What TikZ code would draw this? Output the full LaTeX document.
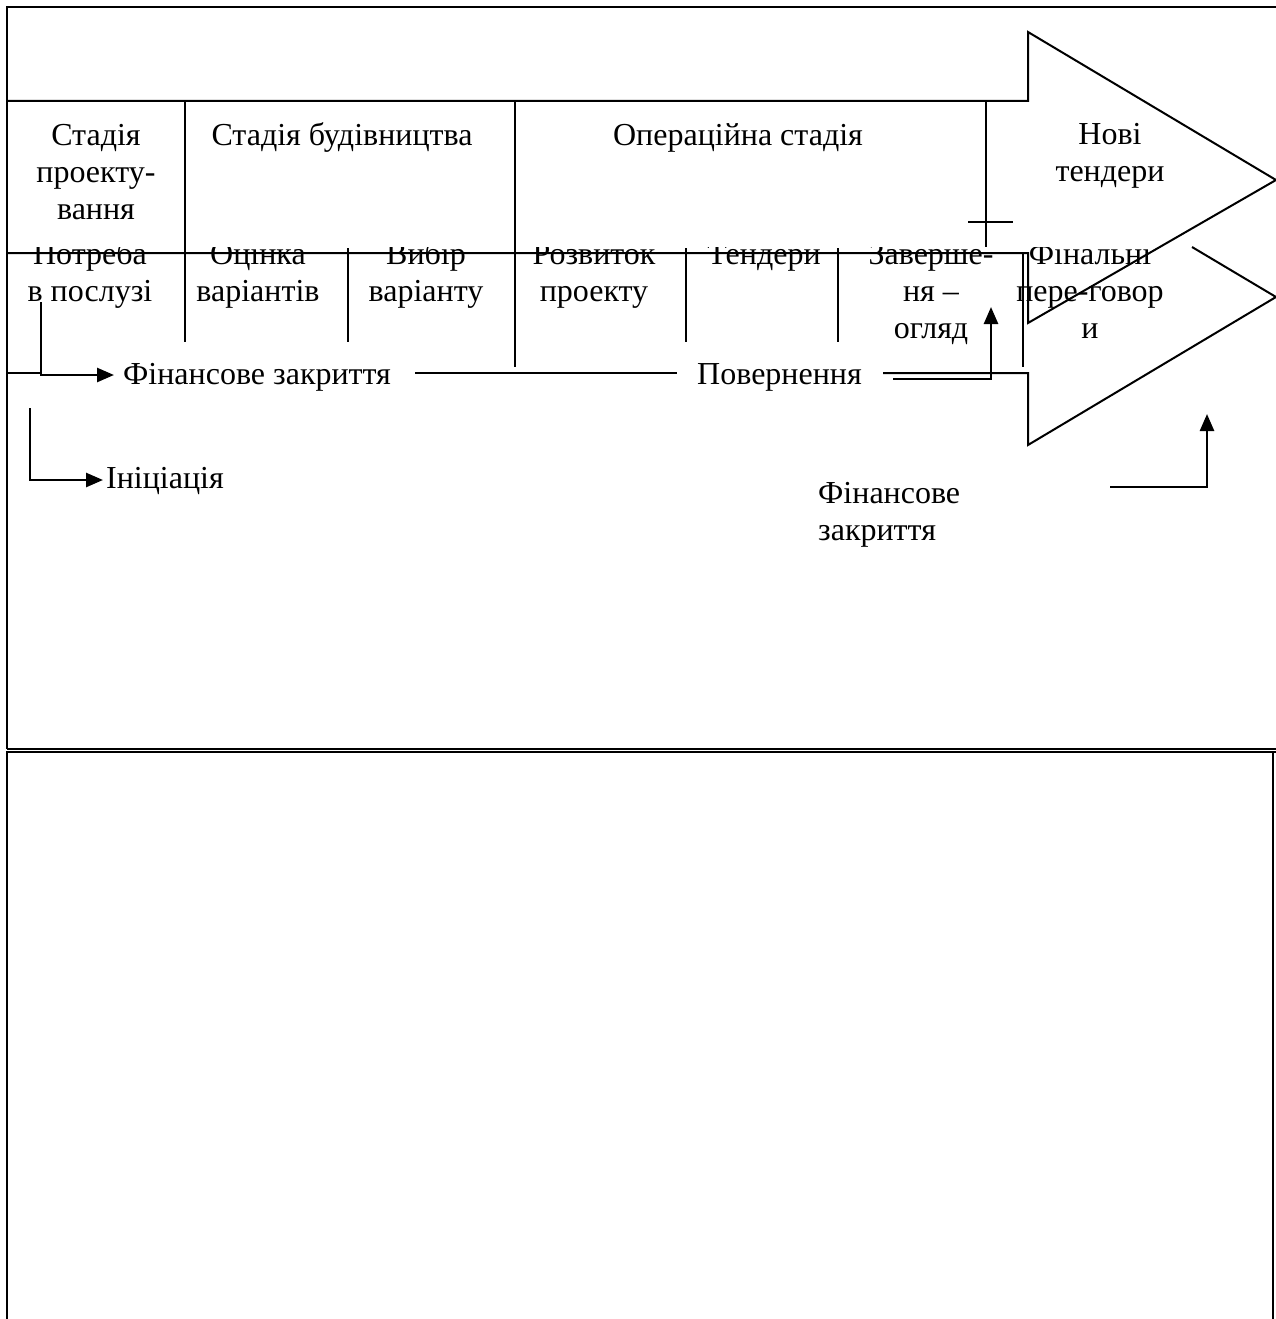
\documentclass[tikz,border=0pt]{standalone}
\usepackage{fontspec}
\setmainfont{Liberation Serif}
\usetikzlibrary{arrows.meta}
\newcommand\myfs{\fontsize{32}{37}\selectfont}
\tikzset{
  ln/.style={line width=2pt},
  arr/.style={line width=2.6pt, -{Triangle[length=17pt,width=14pt]}},
  lab/.style={align=center, inner sep=0pt, anchor=north, font=\myfs},
  labl/.style={align=left, inner sep=0pt, anchor=north west, font=\myfs},
  txt/.style={inner sep=0pt, anchor=base west, font=\myfs},
}
\begin{document}
\begin{tikzpicture}[x=1pt,y=-1pt]
\useasboundingbox (0,0) rectangle (1276,1319);
% outer frames
\draw[ln] (7,748.5) -- (7,7) -- (1300,7);
\draw[ln] (7,748.5) -- (1300,748.5);
\draw[ln] (1300,751.8) -- (7,751.8) -- (7,1340);
\draw[ln] (1273,751.8) -- (1273,1340);
% big arrow 1
\draw[ln] (7,101) -- (1028,101) -- (1028,32) -- (1276,180) -- (1028,323) -- (1028,253) -- (7,253);
% big arrow 2 (visible part)
\draw[ln] (1192,247) -- (1276,297) -- (1028,445) -- (1028,373) -- (883,373);
% table dividers
\draw[ln] (185,101) -- (185,342);
\draw[ln] (348,248) -- (348,342);
\draw[ln] (515,101) -- (515,367);
\draw[ln] (686,248) -- (686,342);
\draw[ln] (838,248) -- (838,342);
\draw[ln] (986,101) -- (986,247);
\draw[ln] (968,222) -- (1013,222);
\draw[ln] (1023,253) -- (1023,367);
% top row labels
\node[lab] (s1) at (96,119) {\strut Стадія\\проекту-\\вання};
\node[lab] (s2) at (342,119) {\strut Стадія будівництва};
\node[lab] (s3) at (738,119) {\strut Операційна стадія};
\node[lab] (s4) at (1110,118) {\strut Нові\\тендери};
% second row labels (tops cut off)
\begin{scope}
\clip (0,247) rectangle (1276,420);
\node[lab] (r1) at (90,238) {\strut Потреба\\в послузі};
\node[lab] (r2) at (258,238) {\strut Оцінка\\варіантів};
\node[lab] (r3) at (426,238) {\strut Вибір\\варіанту};
\node[lab] (r4) at (594,238) {\strut Розвиток\\проекту};
\node[lab] (r5) at (764,238) {\strut Тендери};
\node[lab] (r6) at (931,238) {\strut Заверше-\\ня –\\огляд};
\node[lab] (r7) at (1090,238) {\strut Фінальні\\пере-говор\\и};
\end{scope}
% line with labels
\node[txt] (fz) at (123,384) {Фінансове закриття};
\node[txt] (pv) at (697,384) {Повернення};
\coordinate (a0) at (7,373);
\coordinate (a1) at (41,373);
\coordinate (b0) at (41,302);
\coordinate (b1) at (114,375);
\coordinate (c0) at (415,373);
\coordinate (c1) at (677,373);
\draw[ln] (a0) -- (a1);
\draw[arr] (b0) |- (b1);
\draw[ln] (c0) -- (c1);
% return arrow
\coordinate (d0) at (893,379);
\coordinate (d1) at (991,307);
\draw[arr] (d0) -| (d1);
% initiation
\node[txt] (ini) at (106,488) {Ініціація};
\coordinate (e0) at (30,408);
\coordinate (e1) at (103,480);
\draw[arr] (e0) |- (e1);
% right financial closing
\node[labl] (fz2) at (818,477) {\strut Фінансове\\закриття};
\coordinate (f0) at (1110,487);
\coordinate (f1) at (1207,414);
\draw[arr] (f0) -| (f1);
\end{tikzpicture}
\end{document}
